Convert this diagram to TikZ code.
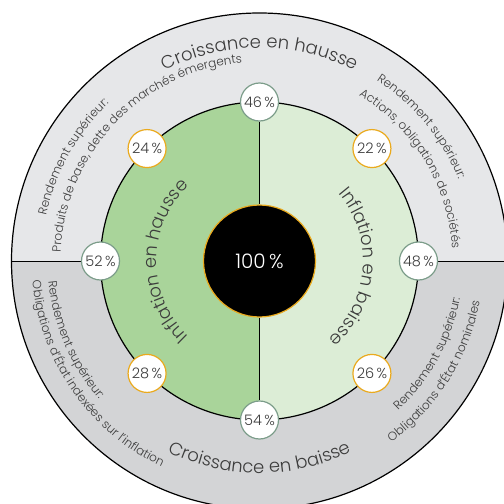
\documentclass[tikz,border=0pt]{standalone}
\usepackage{fontspec}
\setmainfont{Poppins}[UprightFont=* Light]
\usetikzlibrary{decorations.text}

\definecolor{ringtop}{HTML}{E6E7E9}
\definecolor{ringbot}{HTML}{D3D4D6}
\definecolor{leafdark}{HTML}{A9D49A}
\definecolor{leaflight}{HTML}{DCEDD6}
\definecolor{sage}{HTML}{7C9D8A}
\definecolor{amber}{HTML}{EAAA1E}
\definecolor{ink}{HTML}{3C3C3C}

\newcommand\bigtype{\fontsize{18}{20}\selectfont}
\newcommand\smalltype{\fontsize{12}{14}\selectfont}

\tikzset{
  pct/.style={circle, draw=#1, line width=1.2pt, fill=white, minimum size=38pt,
    inner sep=0pt, text=ink, font=\fontsize{14.5}{16}\selectfont},
}

\begin{document}
\begin{tikzpicture}[x=1pt, y=1pt]
  \useasboundingbox (-259.5,-243) rectangle (244.5,261);
  \clip (-259.5,-243) rectangle (244.5,261);

  % outer ring, two halves
  \fill[ringtop] (0:248) arc[start angle=0, end angle=180, radius=248] -- cycle;
  \fill[ringbot] (180:248) arc[start angle=180, end angle=360, radius=248] -- cycle;
  \draw[line width=1.2pt] (0,0) circle [radius=248];
  \draw[line width=1pt] (180:248) -- (0:248);

  % inner disc, two halves
  \fill[leafdark] (90:159) arc[start angle=90, end angle=270, radius=159] -- cycle;
  \fill[leaflight] (-90:159) arc[start angle=-90, end angle=90, radius=159] -- cycle;
  \draw[line width=1.2pt] (0,0) circle [radius=159];

  % curved titles
  \path[decorate, decoration={text along path, text align=center,
      text={|\color{ink}\bigtype|Croissance en hausse}}]
    (150:213) arc[start angle=150, end angle=30, radius=213];
  \path[decorate, decoration={text along path, text align=center,
      text={|\color{ink}\bigtype|Croissance en baisse}}]
    (210:212) arc[start angle=210, end angle=330, radius=212];
  \path[decorate, decoration={text along path, text align=center,
      text={|\color{ink}\bigtype|Inflation en hausse}}]
    (250:103) arc[start angle=250, end angle=110, radius=103];
  \path[decorate, decoration={text along path, text align=center,
      text={|\color{ink}\bigtype|Inflation en baisse}}]
    (66:104) arc[start angle=66, end angle=-74, radius=104];

  % labels in the ring
  \path[decorate, decoration={text along path, text align=left,
      text={|\color{ink}\smalltype|Rendement supérieur:}}]
    (168:218) arc[start angle=168, end angle=100, radius=218];
  \path[decorate, decoration={text along path, text align=left,
      text={|\color{ink}\smalltype|Produits de base, dette des marchés émergents}}]
    (177.5:199) arc[start angle=177.5, end angle=60, radius=199];
  \path[decorate, decoration={text along path, text align=left,
      text={|\color{ink}\smalltype|Rendement supérieur:}}]
    (57:215) arc[start angle=57, end angle=-20, radius=215];
  \path[decorate, decoration={text along path, text align=left,
      text={|\color{ink}\smalltype|Actions, obligations de sociétés}}]
    (59:193) arc[start angle=59, end angle=-30, radius=193];
  \path[decorate, decoration={text along path, text align=left,
      text={|\color{ink}\smalltype|Rendement supérieur:}}]
    (185.5:212) arc[start angle=185.5, end angle=260, radius=212];
  \path[decorate, decoration={text along path, text align=left,
      text={|\color{ink}\smalltype|Obligations d’État indexées sur l’inflation}}]
    (185:228) arc[start angle=185, end angle=280, radius=228];
  \path[decorate, decoration={text along path, text align=right,
      text={|\color{ink}\smalltype|Rendement supérieur:}}]
    (280:204) arc[start angle=280, end angle=349.5, radius=204];
  \path[decorate, decoration={text along path, text align=right,
      text={|\color{ink}\smalltype|Obligations d’État nominales}}]
    (270:224) arc[start angle=270, end angle=349.5, radius=224];

  % centre
  \node[circle, fill=black, draw=amber, line width=1.2pt, minimum size=112pt,
    inner sep=0pt, text=white, font=\fontsize{20}{22}\selectfont] (core) at (0,0) {100\,\%};

  \foreach \ang/\val/\col in {90/46/sage, 45/22/amber, 0/48/sage, -45/26/amber,
      -90/54/sage, -135/28/amber, 180/52/sage, 135/24/amber}
    \node[pct=\col] (p\val) at (\ang:159) {\val\,\%};

  \draw[line width=1pt] (p46) -- (core) (core) -- (p54);
\end{tikzpicture}
\end{document}
